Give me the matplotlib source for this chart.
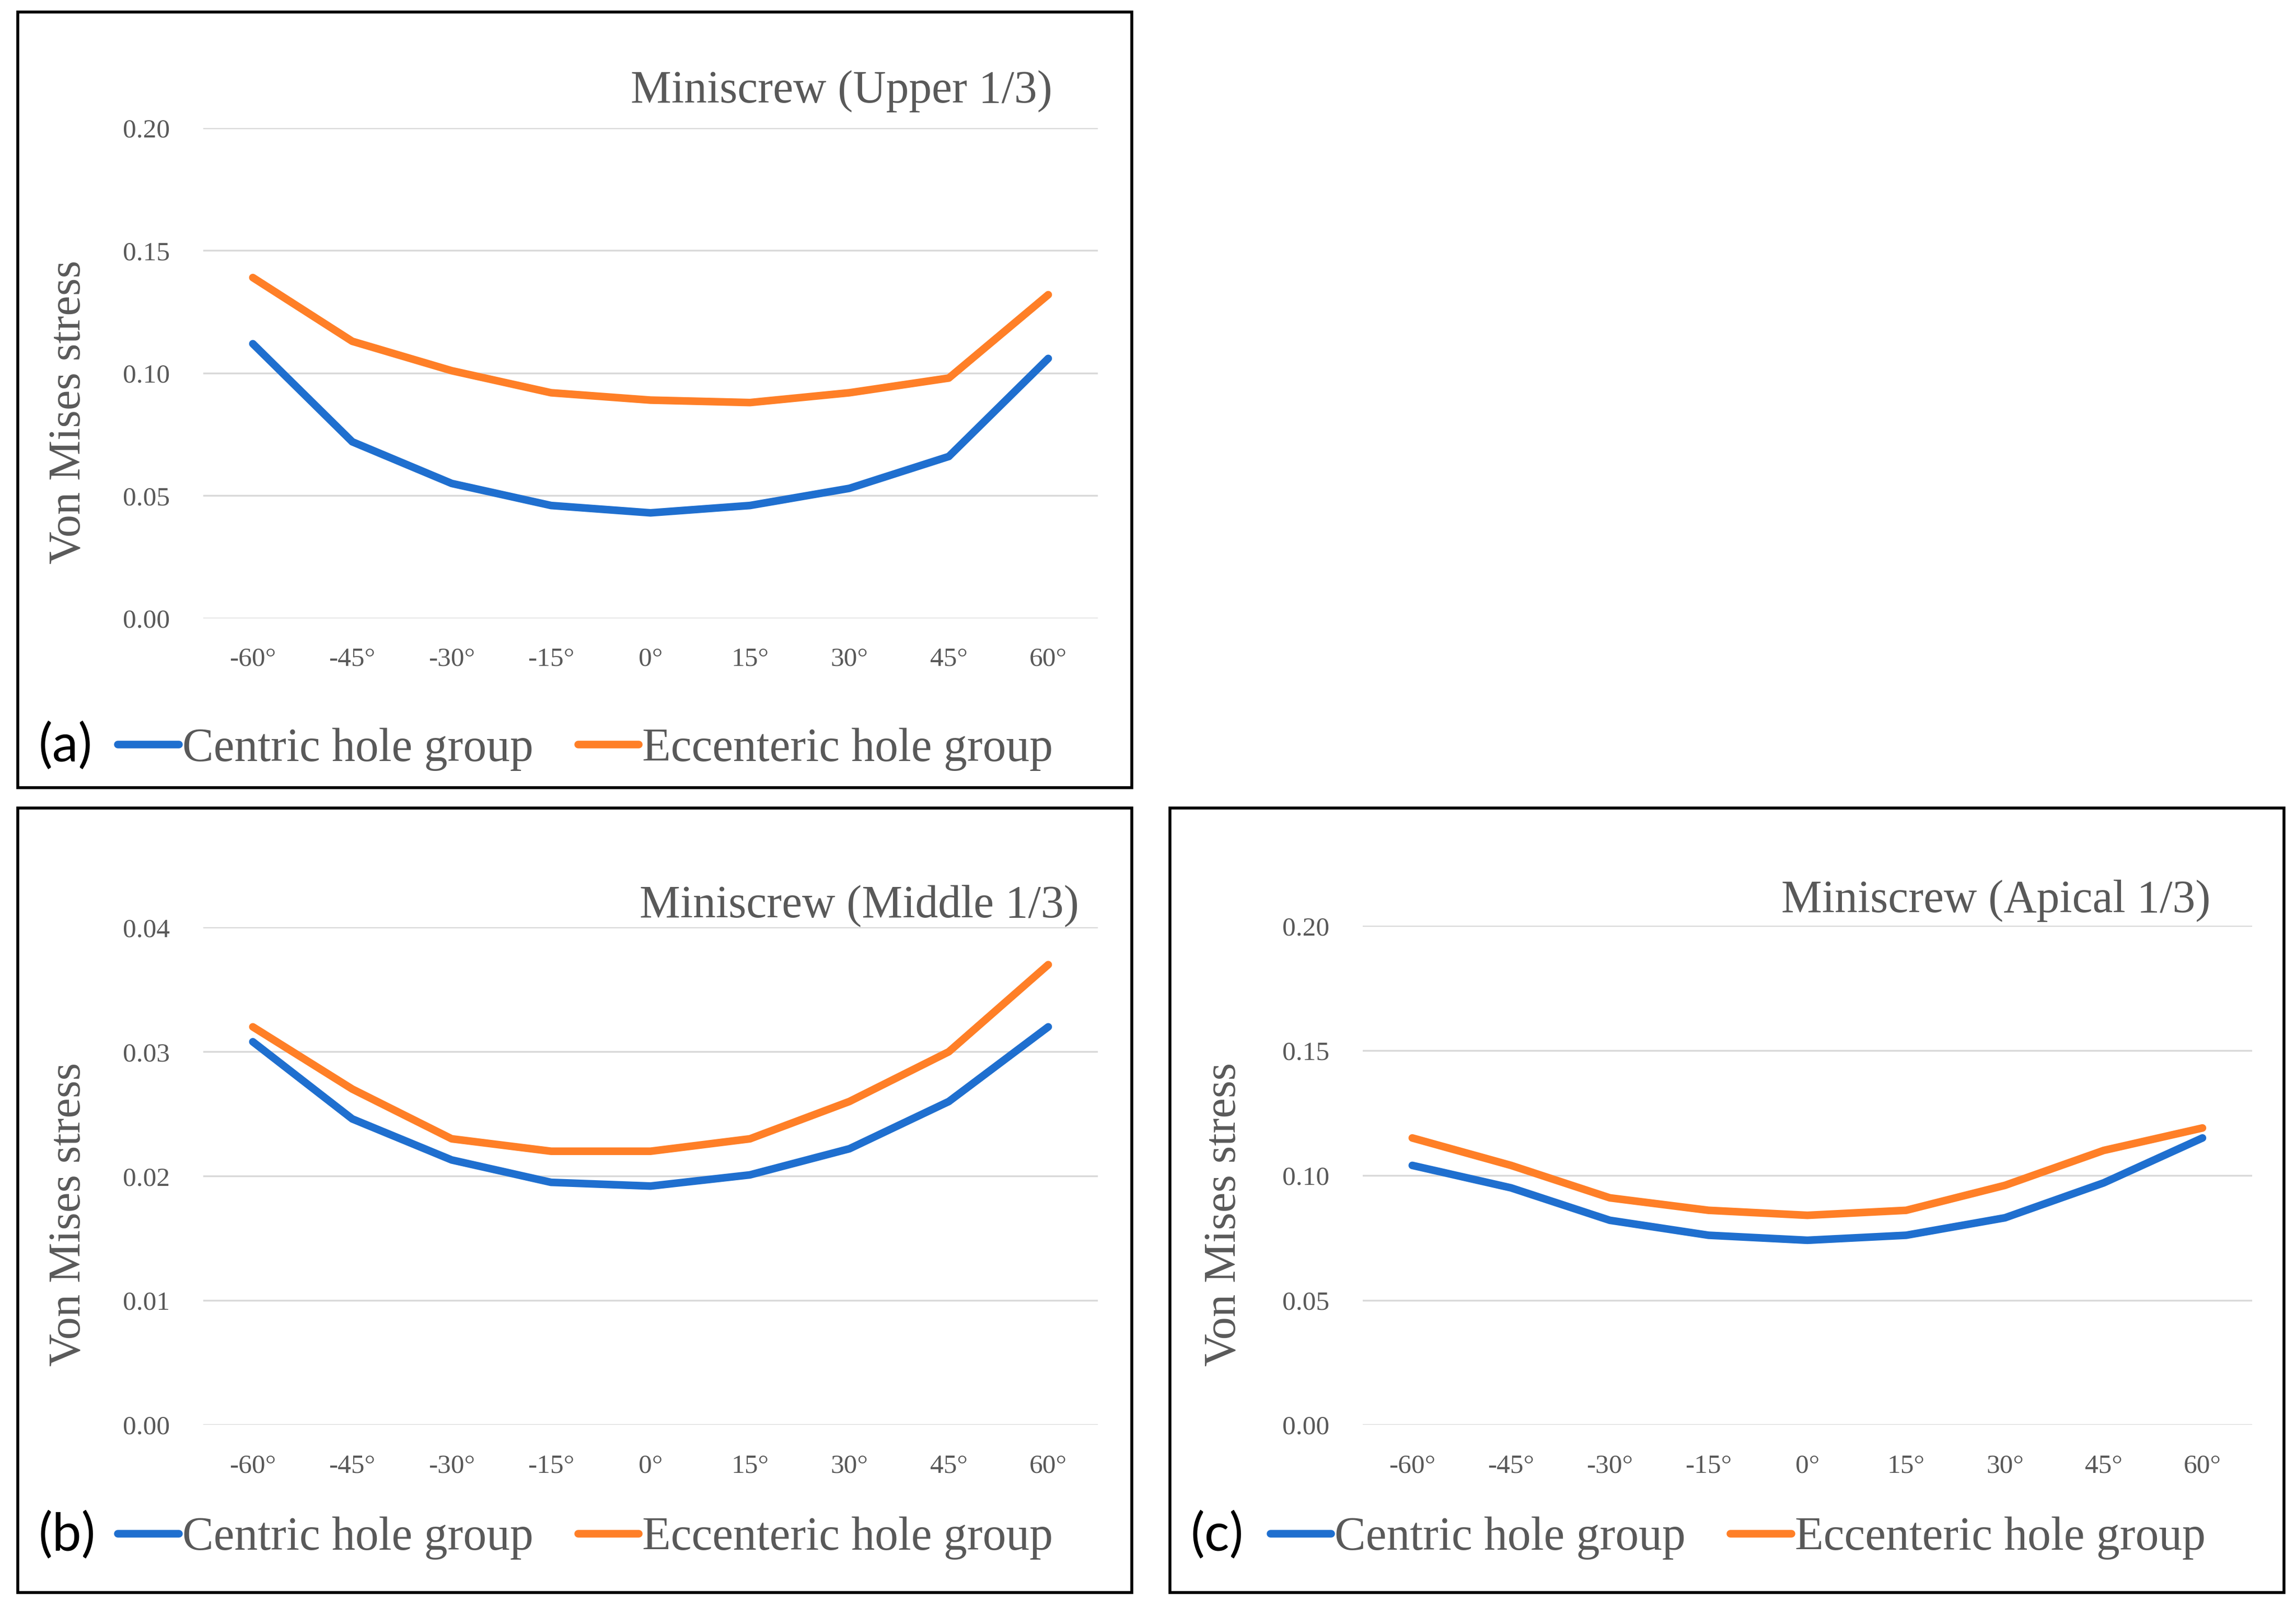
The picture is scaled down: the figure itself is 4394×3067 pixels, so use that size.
import matplotlib
matplotlib.use("Agg")
import matplotlib.pyplot as plt
from matplotlib.patches import Rectangle
from matplotlib.ticker import FormatStrFormatter

# data
angles = [-60, -45, -30, -15, 0, 15, 30, 45, 60]
angle_labels = [f"{a}°" for a in angles]

upper_centric = [0.112, 0.072, 0.055, 0.046, 0.043, 0.046, 0.053, 0.066, 0.106]
upper_eccentric = [0.139, 0.113, 0.101, 0.092, 0.089, 0.088, 0.092, 0.098, 0.132]

middle_centric = [0.0308, 0.0246, 0.0213, 0.0195, 0.0192, 0.0201, 0.0222, 0.0260, 0.0320]
middle_eccentric = [0.0320, 0.0270, 0.0230, 0.0220, 0.0220, 0.0230, 0.0260, 0.0300, 0.0370]

apical_centric = [0.104, 0.095, 0.082, 0.076, 0.074, 0.076, 0.083, 0.097, 0.115]
apical_eccentric = [0.115, 0.104, 0.091, 0.086, 0.084, 0.086, 0.096, 0.110, 0.119]

series_names = ["Centric hole group", "Eccenteric hole group"]
titles = ["Miniscrew (Upper 1/3)", "Miniscrew (Middle 1/3)", "Miniscrew (Apical 1/3)"]
panel_tags = ["(a)", "(b)", "(c)"]

BLUE = "#1F6FCF"
ORANGE = "#FF7F27"
GREY = "#595959"
GRID = "#D9D9D9"
SERIF = "Liberation Serif"

# layout is measured on a 1560 x 1089 copy of the reference
W, H = 1560.0, 1089.0


def fx(x):
    return x / W


def fy(y):
    return 1 - y / H


def add_panel(fig, box, plot, centric, eccentric, ymax, title, title_xy, ylab_xy, tag, legend_y):
    # outer frame
    x0, y0, x1, y1 = box
    fig.add_artist(Rectangle((fx(x0), fy(y1)), fx(x1 - x0), (y1 - y0) / H,
                             transform=fig.transFigure, fill=False,
                             edgecolor="black", linewidth=4))

    px0, py_top, px1, py0 = plot
    ax = fig.add_axes([fx(px0), fy(py0), fx(px1 - px0), (py0 - py_top) / H])
    ax.plot(angles, centric, color=BLUE, linewidth=10.5,
            solid_capstyle="round", solid_joinstyle="round", label=series_names[0])
    ax.plot(angles, eccentric, color=ORANGE, linewidth=10.5,
            solid_capstyle="round", solid_joinstyle="round", label=series_names[1])

    ax.set_xlim(-67.5, 67.5)
    ax.set_ylim(0, ymax)
    ax.set_xticks(angles)
    ax.set_xticklabels(angle_labels)
    ax.set_yticks([ymax * i / 4 for i in range(5)])
    ax.yaxis.set_major_formatter(FormatStrFormatter("%.2f"))
    ax.grid(axis="y", color=GRID, linewidth=2.5)
    ax.set_axisbelow(True)
    for s in ax.spines.values():
        s.set_visible(False)
    ax.tick_params(length=0, labelsize=37, labelcolor=GREY)
    ax.tick_params(axis="x", pad=40)
    ax.tick_params(axis="y", pad=46)
    for lab in ax.get_xticklabels() + ax.get_yticklabels():
        lab.set_family(SERIF)
    for ln in ax.get_lines():
        ln.set_clip_on(False)

    fig.text(fx(title_xy[0]), fy(title_xy[1]), title, ha="right", va="center",
             family=SERIF, size=63, color=GREY)
    fig.text(fx(ylab_xy[0]), fy(ylab_xy[1]), "Von Mises stress", ha="center", va="center",
             rotation=90, family=SERIF, size=62.5, color=GREY)
    fig.text(fx(x0 + 14), fy(legend_y - 2), tag, ha="left", va="center",
             family="Lato", size=72, color="black")

    ax.legend(loc="center left", bbox_to_anchor=(fx(x0 + 68), fy(legend_y)),
              bbox_transform=fig.transFigure, ncol=2, frameon=False,
              prop={"family": SERIF, "size": 64.5}, labelcolor=GREY,
              handlelength=1.3, handletextpad=0.08, columnspacing=0.95,
              borderpad=0, borderaxespad=0)
    return ax


fig = plt.figure(figsize=(43.94, 30.67), dpi=100)
fig.patch.set_facecolor("white")

add_panel(fig, (12, 8, 769, 535), (138, 87, 746, 420),
          upper_centric, upper_eccentric, 0.20, titles[0], (715, 62), (47, 280),
          panel_tags[0], 509)
add_panel(fig, (12, 549, 769, 1082), (138, 630, 746, 968),
          middle_centric, middle_eccentric, 0.04, titles[1], (733, 615), (47, 825),
          panel_tags[1], 1045)
add_panel(fig, (795, 549, 1552, 1082), (926, 629, 1530, 968),
          apical_centric, apical_eccentric, 0.20, titles[2], (1502, 612), (832, 825),
          panel_tags[2], 1045)

fig.savefig("out.png", dpi=100, facecolor="white")
